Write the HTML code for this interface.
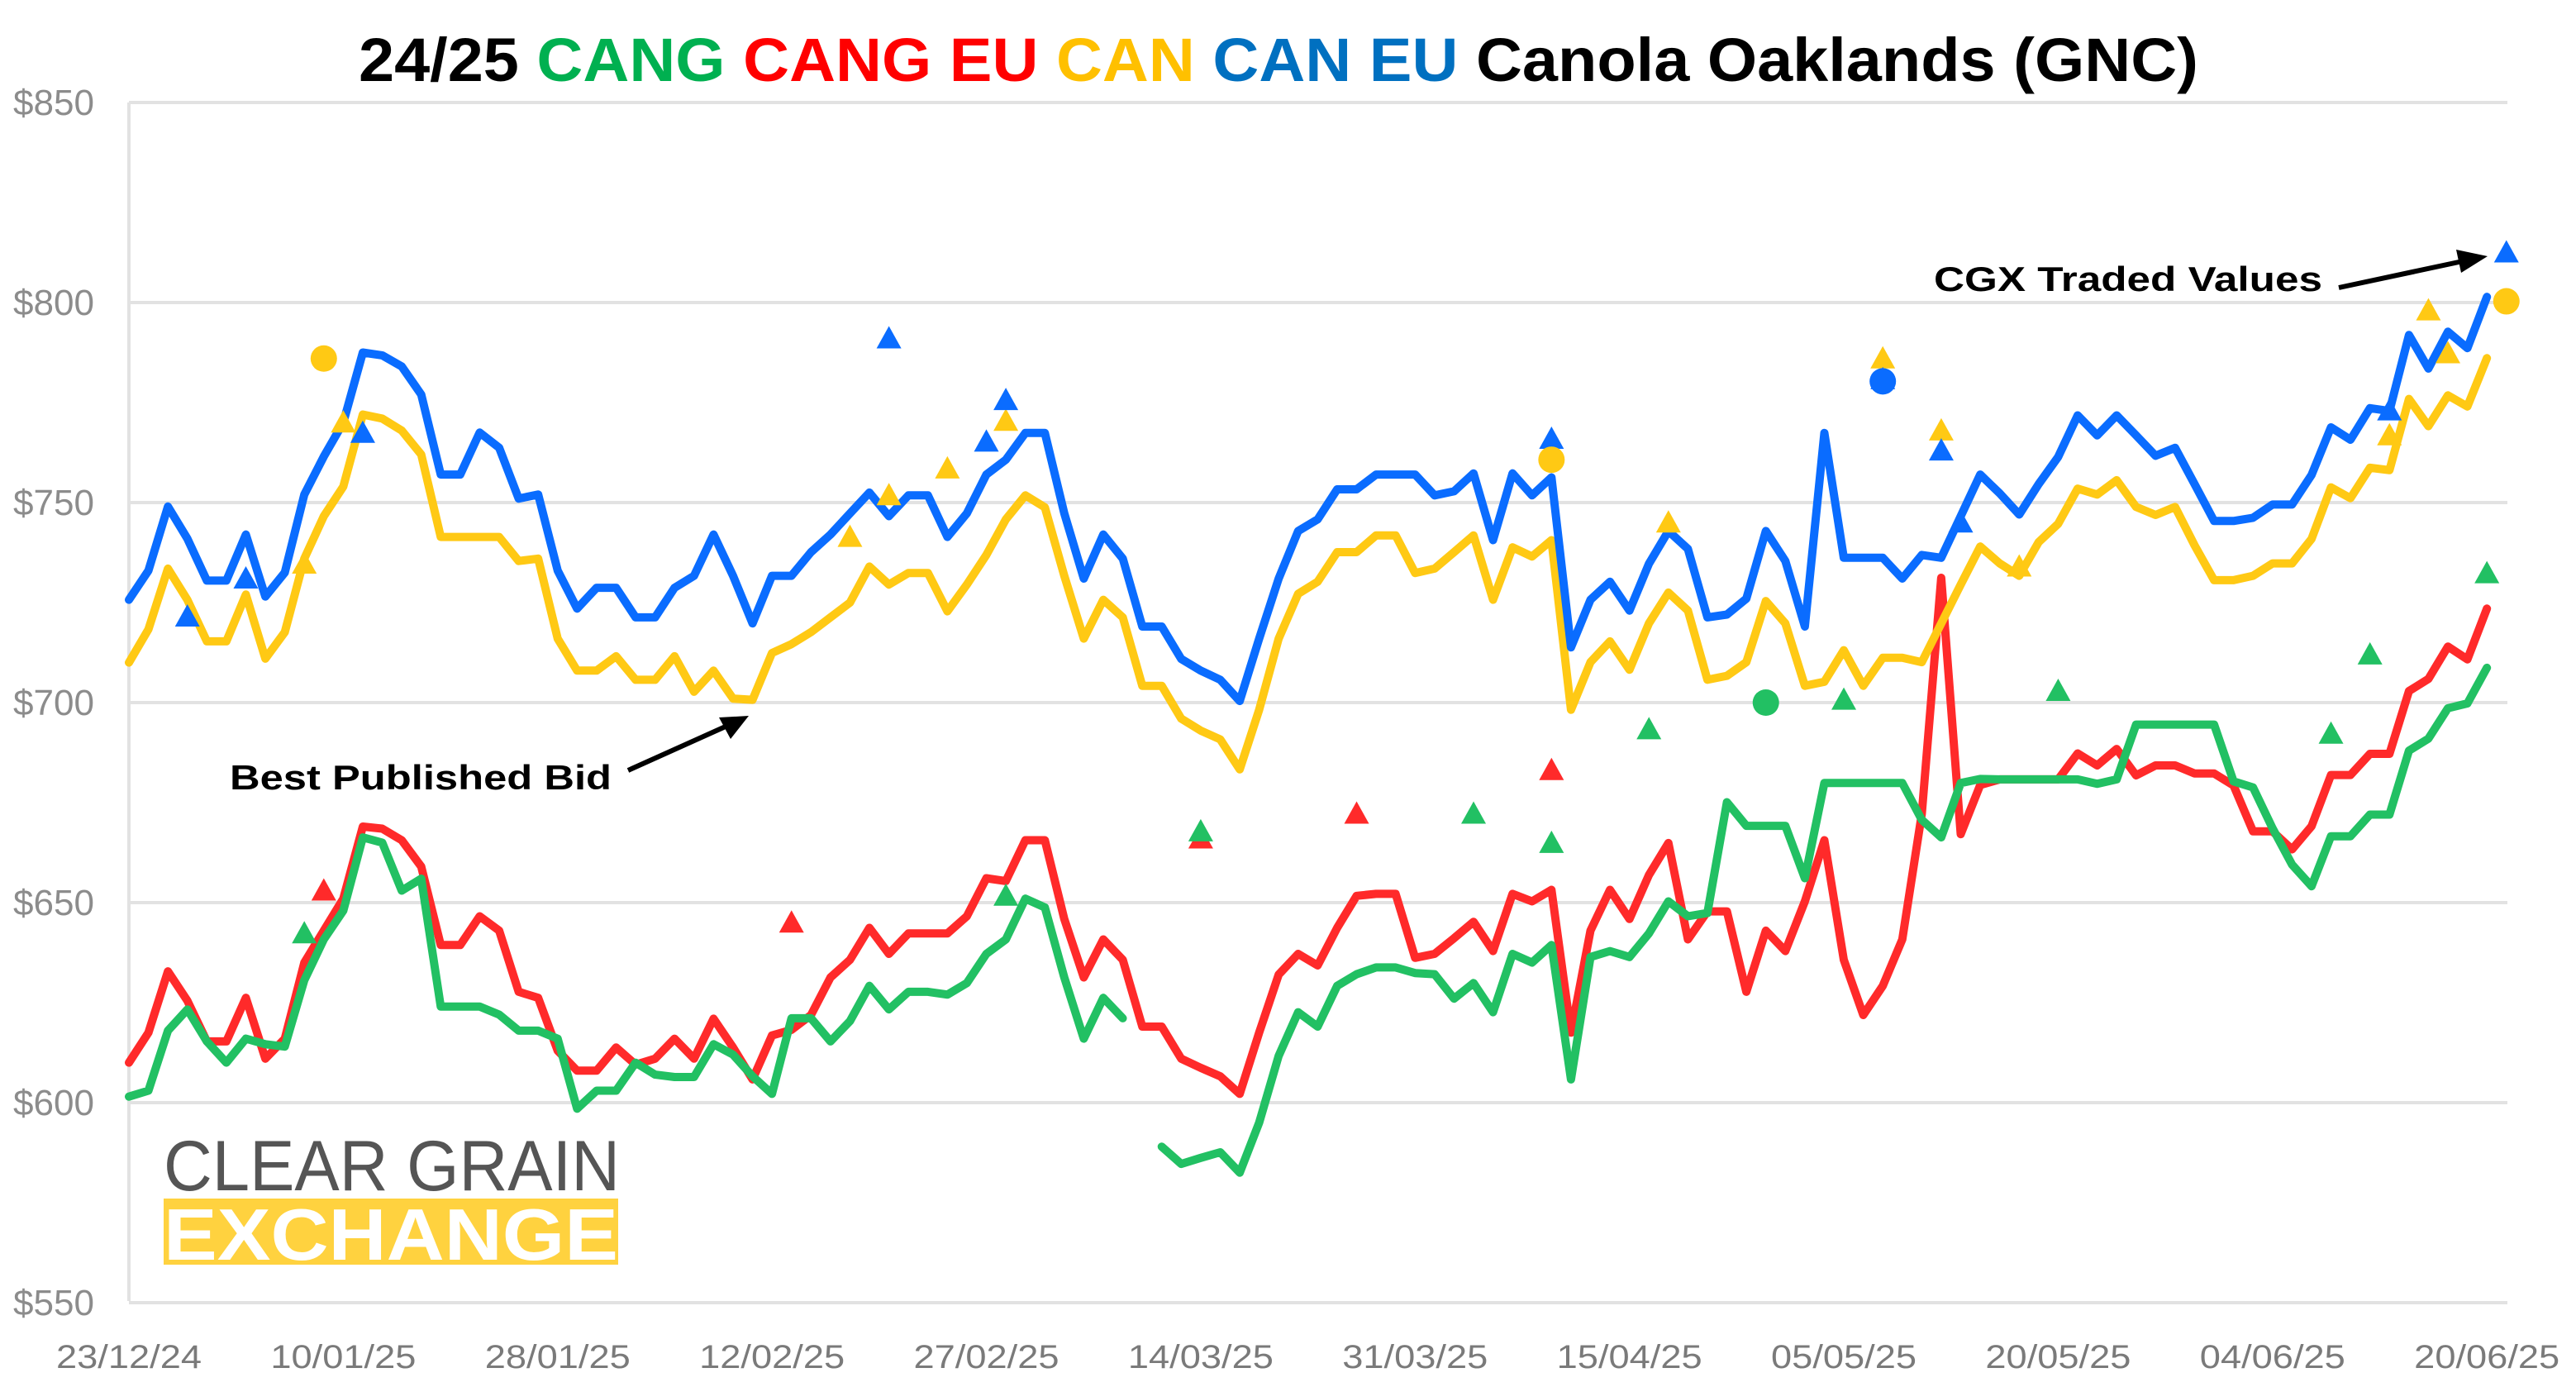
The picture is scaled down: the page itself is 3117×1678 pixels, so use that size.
<!DOCTYPE html>
<html><head><meta charset="utf-8"><style>
html,body{margin:0;padding:0;background:#fff;}
svg{display:block;}
text{font-family:"Liberation Sans",sans-serif;}
</style></head><body>
<svg id="chart" width="3117" height="1678" viewBox="0 0 3117 1678" xmlns="http://www.w3.org/2000/svg">
<text x="1547" y="98" text-anchor="middle" font-size="74" font-weight="bold" textLength="2226" lengthAdjust="spacingAndGlyphs"><tspan fill="#000">24/25 </tspan><tspan fill="#00B050">CANG </tspan><tspan fill="#FF0000">CANG EU </tspan><tspan fill="#FFC000">CAN </tspan><tspan fill="#0070C0">CAN EU </tspan><tspan fill="#000">Canola Oaklands (GNC)</tspan></text>
<g id="grid"></g>
<g id="yaxis"></g>
<g id="xaxis"></g>
<g id="logo">
<text x="198" y="1440" font-size="86" fill="#555" textLength="552" lengthAdjust="spacingAndGlyphs">CLEAR GRAIN</text>
<rect x="198" y="1450" width="550" height="80" fill="#FFD23F"/>
<text x="198" y="1524" font-size="88" font-weight="bold" fill="#fff" textLength="550" lengthAdjust="spacingAndGlyphs">EXCHANGE</text>
</g>
<g id="series"></g>
<g id="markers"></g>
<g>
<text x="278" y="955" font-size="42" font-weight="bold" fill="#000" textLength="462" lengthAdjust="spacingAndGlyphs">Best Published Bid</text>
<line x1="760" y1="932" x2="880" y2="878" stroke="#000" stroke-width="6"/>
<polygon points="906,866 870,868 884,894" fill="#000"/>
</g>
<g>
<text x="2340" y="352" font-size="42" font-weight="bold" fill="#000" textLength="470" lengthAdjust="spacingAndGlyphs">CGX Traded Values</text>
<line x1="2830" y1="348" x2="2980" y2="316" stroke="#000" stroke-width="6"/>
<polygon points="3010,310 2972,302 2978,330" fill="#000"/>
</g>
</svg>
<script>
const xLabels = ["23/12/24","10/01/25","28/01/25","12/02/25","27/02/25","14/03/25","31/03/25","15/04/25","05/05/25","20/05/25","04/06/25","20/06/25"];
const yTicks = [550,600,650,700,750,800,850];
const canEU = [725.7,733,749,741,730.5,730.5,742,726.5,732.5,752,761.5,770,787.5,786.8,784,777,757,757,767.5,763.7,751,752,733,723.5,728.7,728.7,721.3,721.3,728.7,731.7,742,731.7,
719.8,731.7,731.7,737.6,742,747.3,752.5,746.6,751.8,751.8,741.4,747.3,757,760.7,767.4,767.4,747.3,731,742,736,719,719,710.9,708,705.7,700.4,716,731,742.9,745.8,753.3,
753.3,757,757,757,751.8,752.8,757.3,740.6,757.3,751.8,756.3,713.8,725.7,730.2,723,734.7,742.9,738.4,721.3,722,726,742.9,735.4,719,767.4,736.2,736.2,736.2,731,736.9,736.2,746.6,
757,752.3,747,754.6,761.4,771.8,766.8,771.8,766.8,761.7,763.7,754.6,745.4,745.4,746.2,749.5,749.5,756.9,768.8,765.7,773.6,772.9,791.9,783.5,792.7,788.6,801.4];
const can = [710,718.3,733.5,725.7,715.3,715.3,727,711,717.6,736,746.6,754,772,771,768,762,741.4,741.4,741.4,741.4,735.4,736,716,708,708,711.6,705.7,705.7,711.6,702.7,708,701,
700.7,712.4,714.6,717.6,721.3,725,734,729.5,732.4,732.4,722.8,729.5,736.9,745.8,751.8,748.8,731.7,716,725.7,721.3,704.2,704.2,696,693,690.8,683.3,698.2,716,727.2,730.2,737.6,
737.6,741.8,741.8,732.4,733.5,737.6,741.8,725.7,738.8,736.5,740.6,698.2,710.1,715.3,708.2,719.8,727.5,723,705.7,706.7,710.1,725.4,719.8,704.2,705.2,713.1,704.2,711.2,711.2,710.1,719.8,729.5,
739,734.8,731.7,740.1,744.7,753.5,752,755.6,748.9,746.9,748.9,739.3,730.6,730.6,731.7,734.8,734.8,740.9,753.8,751.1,758.7,758.1,775.9,769.1,776.8,774,786.1];
const cangEU = [610,617.5,632.8,625.5,615.3,615.3,626.2,611,616,635,643,651,669,668.5,665.6,659,639.4,639.4,646.6,643,627.7,626.2,613,608,608,613.8,609.5,611,616,611,621,613.8,
605.8,616.8,618.2,621.9,631.3,635.7,643.7,637.2,642.3,642.3,642.3,646.6,656.1,655.4,665.6,665.6,645.9,631.3,640.8,635.7,619,619,611,608.7,606.6,602.2,617.5,632,637.2,634.3,643.7,
651.7,652.2,652.2,636.2,637.2,641.1,645.2,637.9,652.2,650.3,653.2,617.5,643,653.2,645.9,656.9,664.9,640.8,647.8,647.8,627.7,643,637.9,650.3,665.6,635.7,621.9,629.2,640.8,672.2,731.2,667.1,
679.4,680.8,680.8,680.8,680.8,687.3,684.3,688.4,681.8,684.3,684.3,682.3,682.3,679.3,667.8,667.8,663.3,669.1,681.9,681.9,687.2,687.2,702.9,705.9,714,710.8,723.5];
const cang = [601.5,603,618,623.3,615.3,610,616,614.6,614,630.6,640.8,648,666.3,665,653,656,624,624,624,622,618,618,616,598.5,603,603,610,607,606.4,606.4,614.6,612,
606.6,602.2,621.1,621.1,615.3,620.4,629.2,623.3,627.7,627.7,627,629.9,637.2,640.8,651,648.8,631.3,616,626.2,621.1,null,589,584.7,586.2,587.6,582.5,595,611.7,622.6,619,629.2,
632.1,633.8,633.8,632.4,632.1,626,629.9,622.6,637.2,635,639.4,605.8,636.4,637.9,636.4,642.3,650.3,646.6,647.4,675.1,669.2,669.2,669.2,656.1,679.9,679.9,679.9,679.9,679.9,670.7,666.3,679.9,
680.9,680.8,680.8,680.8,680.8,680.8,679.7,680.8,694.5,694.5,694.5,694.5,694.5,680.3,678.8,668.6,659.5,654.1,666.6,666.6,672,672,688,691,698.6,699.8,708.7];
// traded value markers
const triCanEUIdx = [3,6,12,39,44,45,73,90,93,94,116,122];
const triCanEUVal = [721.5,731,767.4,791,765.2,775.6,765.9,780.8,763,745,773,812.5];
const triCanIdx = [9,11,37,39,42,45,79,90,93,97,116,118,119];
const triCanVal = [734.7,770,741.4,751.8,758.5,770.4,745,786,768,734,766.8,798,787.3];
const triCangEUIdx = [10,34,55,63,73];
const triCangEUVal = [653,645,666,672.2,683.1];
const triCangIdx = [9,45,55,69,73,78,88,99,113,115,121];
const triCangVal = [642.3,651.7,667.8,672.2,664.9,693.3,700.7,702.9,692.2,712,732.3];
const circCanIdx = [10,73,122];
const circCanVal = [786,760.7,800.3];
const circCanEUIdx = [90];
const circCanEUVal = [780.3];
const circCangIdx = [84];
const circCangVal = [700];

const NS="http://www.w3.org/2000/svg";
const X0=156, XSTEP=23.58, Y0=124, YPX=4.84;
function xs(i){return X0+i*XSTEP;}
function ys(v){return Y0+(850-v)*YPX;}
function mk(tag,attrs,parent){const e=document.createElementNS(NS,tag);for(const k in attrs)e.setAttribute(k,attrs[k]);parent.appendChild(e);return e;}

const grid=document.getElementById('grid'), yaxis=document.getElementById('yaxis'), xaxis=document.getElementById('xaxis');
mk('line',{x1:156,y1:124,x2:156,y2:1574,stroke:'#e2e2e2','stroke-width':4},grid);
yTicks.forEach(v=>{
  const l=mk('line',{x1:156,y1:ys(v),x2:3034,y2:ys(v),stroke:'#e2e2e2','stroke-width':4},grid);
  
  
  const t=mk('text',{x:114,y:ys(v)+15,'text-anchor':'end','font-size':44,fill:'#8c8c8c',textLength:98,lengthAdjust:'spacingAndGlyphs'},yaxis);
  t.textContent='$'+v;
  
  
});
xLabels.forEach((s,k)=>{
  const t=mk('text',{x:xs(k*11),y:1655,'text-anchor':'middle','font-size':40,fill:'#7a7a7a',textLength:176,lengthAdjust:'spacingAndGlyphs'},xaxis);
  t.textContent=s;
  
  
});

const seriesG=document.getElementById('series');
function drawLine(arr,color,name){
  let d='',pen=false;
  arr.forEach((v,i)=>{
    if(v===null){pen=false;return;}
    d+=(pen?'L':'M')+xs(i).toFixed(1)+' '+ys(v).toFixed(1)+' ';pen=true;
  });
  const p=mk('path',{d:d,fill:'none',stroke:color,'stroke-width':10,'stroke-linejoin':'round','stroke-linecap':'round'},seriesG);
  
  
}
drawLine(cangEU,'#FF2A2A','line-cang-eu');
drawLine(cang,'#22C063','line-cang');
drawLine(can,'#FFC914','line-can');
drawLine(canEU,'#0A6CFF','line-can-eu');

const mG=document.getElementById('markers');
function tri(idx,val,color,name){
  idx.forEach((i,k)=>{
    const x=xs(i),y=ys(val[k]);
    const p=mk('polygon',{points:`${x},${y-15} ${x-15},${y+12} ${x+15},${y+12}`,fill:color},mG);
    
    
  });
}
function circ(idx,val,color,name){
  idx.forEach((i,k)=>{
    const c=mk('circle',{cx:xs(i),cy:ys(val[k]),r:16,fill:color},mG);
    
    
  });
}
tri(triCangEUIdx,triCangEUVal,'#FF2A2A','traded-cang-eu-marker');
tri(triCangIdx,triCangVal,'#22C063','traded-cang-marker');
tri(triCanIdx,triCanVal,'#FFC914','traded-can-marker');
tri(triCanEUIdx,triCanEUVal,'#0A6CFF','traded-can-eu-marker');
circ(circCanIdx,circCanVal,'#FFC914','traded-can-circle');
circ(circCanEUIdx,circCanEUVal,'#0A6CFF','traded-can-eu-circle');
circ(circCangIdx,circCangVal,'#22C063','traded-cang-circle');
</script>
</body></html>
